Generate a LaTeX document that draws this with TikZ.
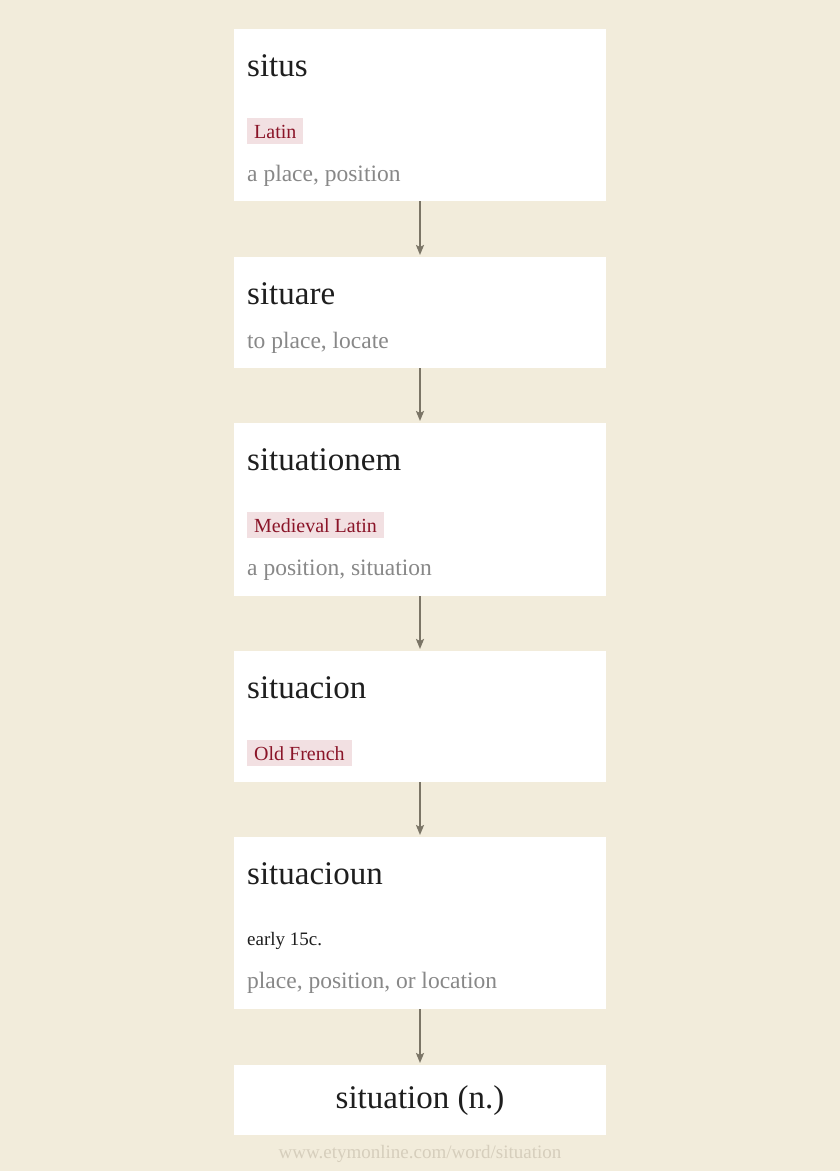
\documentclass[tikz,border=0pt]{standalone}
\usepackage{fontspec}
\setmainfont{Liberation Serif}
\usetikzlibrary{arrows.meta}
\definecolor{bgc}{HTML}{F2ECDB}
\definecolor{titlec}{HTML}{1E1E1E}
\definecolor{glossc}{HTML}{888888}
\definecolor{tagbg}{HTML}{F2E0E2}
\definecolor{tagtext}{HTML}{8A1428}
\definecolor{arrc}{HTML}{7B7566}
\definecolor{footc}{HTML}{D6CEBC}
\tikzset{
  box/.style={fill=white, draw=none, anchor=north west, minimum width=372pt, inner sep=0pt, outer sep=0pt},
  wtitle/.style={anchor=base west, inner sep=0pt, font=\fontsize{33}{36}\selectfont, text=titlec},
  wgloss/.style={anchor=base west, inner sep=0pt, font=\fontsize{23.5}{26}\selectfont, text=glossc},
  wdate/.style={anchor=base west, inner sep=0pt, font=\fontsize{19}{22}\selectfont, text=titlec},
  wtag/.style={anchor=base west, inner xsep=7pt, inner ysep=6pt, text height=14pt, text depth=0pt, fill=tagbg, font=\fontsize{20}{24}\selectfont, text=tagtext},
  arr/.style={draw=arrc, line width=2pt, -{Stealth[length=10pt,width=8pt,inset=2pt]}, shorten >=2pt},
  foot/.style={anchor=base, inner sep=0pt, font=\fontsize{19}{22}\selectfont, text=footc}
}
\begin{document}
\begin{tikzpicture}[x=1pt,y=-1pt]
\fill[bgc] (0,0) rectangle (840,1171);
\useasboundingbox (0,0) rectangle (840,1171);
% boxes
\node[box, minimum height=172pt] (b1) at (234,29) {};
\node[box, minimum height=111pt] (b2) at (234,257) {};
\node[box, minimum height=173pt] (b3) at (234,423) {};
\node[box, minimum height=131pt] (b4) at (234,651) {};
\node[box, minimum height=172pt] (b5) at (234,837) {};
\node[box, minimum height=70pt] (b6) at (234,1065) {};
% box 1
\node[wtitle] (t1) at (247,76) {situs};
\node[wtag] (g1) at (247,138) {Latin};
\node[wgloss] (m1) at (247,181) {a place, position};
% box 2
\node[wtitle] (t2) at (247,304) {situare};
\node[wgloss] (m2) at (247,348) {to place, locate};
% box 3
\node[wtitle] (t3) at (247,470) {situationem};
\node[wtag] (g3) at (247,532) {Medieval Latin};
\node[wgloss] (m3) at (247,575) {a position, situation};
% box 4
\node[wtitle] (t4) at (247,698) {situacion};
\node[wtag] (g4) at (247,760) {Old French};
% box 5
\node[wtitle] (t5) at (247,884) {situacioun};
\node[wdate] (d5) at (247,945) {early 15c.};
\node[wgloss] (m5) at (247,988) {place, position, or location};
% box 6
\node[wtitle, anchor=base] (t6) at (420,1108) {situation (n.)};
% footer
\node[foot] (ft) at (420,1158) {www.etymonline.com/word/situation};
% arrows
\draw[arr] (b1.south) -- (b2.north);
\draw[arr] (b2.south) -- (b3.north);
\draw[arr] (b3.south) -- (b4.north);
\draw[arr] (b4.south) -- (b5.north);
\draw[arr] (b5.south) -- (b6.north);
\end{tikzpicture}
\end{document}
